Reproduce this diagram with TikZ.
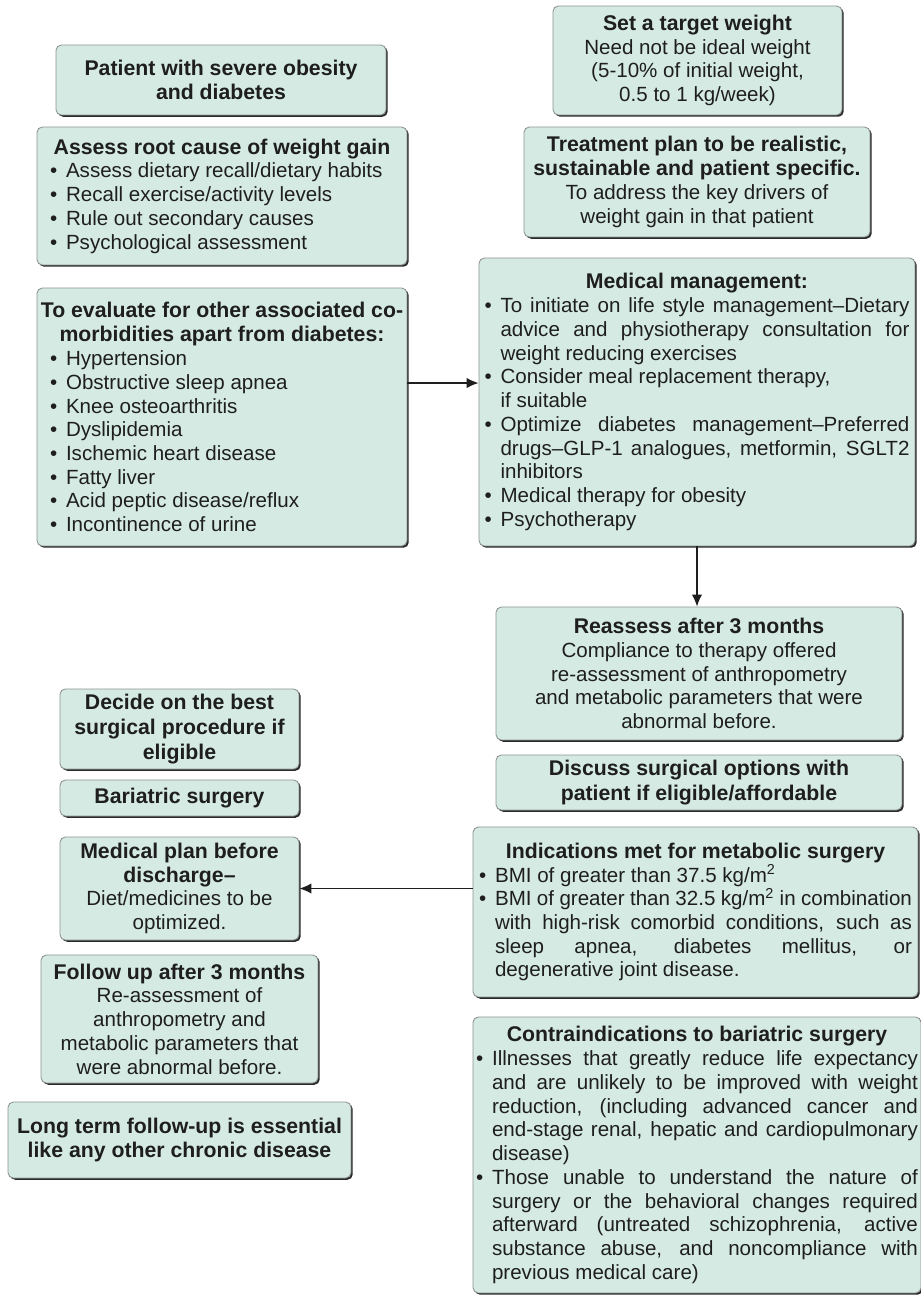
\documentclass[tikz,border=0pt]{standalone}
\usepackage{fontspec}
\setmainfont{Liberation Sans}
\usetikzlibrary{arrows.meta,shadows}

\definecolor{boxfill}{HTML}{D5EAE3}
\definecolor{edge}{HTML}{8E9491}
\definecolor{shade}{HTML}{2A2A2A}
\definecolor{ink}{HTML}{1E1E1E}

\newcommand{\fs}{\fontsize{11.7}{13.5}\selectfont}
\newcommand{\bfs}{\fontsize{12.1}{13.8}\selectfont\bfseries}
\newlength{\bulind}
\setlength{\bulind}{0.32cm}
\newcommand{\bul}{\par\noindent\hangindent=\bulind\hangafter=1\makebox[\bulind][l]{\textbullet}}
\newcommand{\ttl}[1]{{\centering\bfs #1\par}}
\hyphenpenalty=10000
\exhyphenpenalty=10000

\begin{document}
\begin{tikzpicture}[x=0.02cm, y=-0.02cm,
        box/.style={draw=edge, line width=0.5pt, fill=boxfill, rounded corners=3pt, text=ink,
            drop shadow={shadow xshift=1pt, shadow yshift=-1pt, fill=shade, opacity=1},
            align=center, inner sep=2pt, font=\fs},
        bbox/.style={box, font=\fontsize{12.1}{14}\selectfont\bfseries},
        list/.style={box, align=justify},
        arrow/.style={-{Latex[length=2.4mm,width=2.1mm]}, line width=0.9pt, draw=ink}
    ]
    \useasboundingbox (0,0) rectangle (920,1295);
    \node[bbox, minimum width=6.6cm, minimum height=1.4cm] (patient) at (221,80) {Patient with severe obesity\\and diabetes};
    \node[list, text width=6.88cm, inner xsep=0.26cm, minimum height=2.76cm] (rootcause) at (222,196) {\ttl{Assess root cause of weight gain}\bul Assess dietary recall/dietary habits\bul Recall exercise/activity levels\bul Rule out secondary causes\bul Psychological assessment\par};
    \node[list, text width=6.88cm, inner xsep=0.26cm, minimum height=5.16cm] (comorb) at (222,417) {\ttl{\makebox[\hsize]{To evaluate for other associated co-}\\morbidities apart from diabetes:}\bul Hypertension\bul Obstructive sleep apnea\bul Knee osteoarthritis\bul Dyslipidemia\bul Ischemic heart disease\bul Fatty liver\bul Acid peptic disease/reflux\bul Incontinence of urine\par};
    \node[box, minimum width=5.78cm, minimum height=2.18cm] (target) at (697.5,60.5) {{\bfs Set a target weight}\\Need not be ideal weight\\(5-10\% of initial weight,\\0.5 to 1 kg/week)};
    \node[box, minimum width=6.92cm, minimum height=2.2cm] (plan) at (697,182) {{\bfs Treatment plan to be realistic,}\\{\bfs sustainable and patient specific.}\\To address the key drivers of\\weight gain in that patient};
    \node[list, text width=8.5cm, inner xsep=0.11cm, minimum height=5.76cm] (medical) at (697,402) {\ttl{Medical management:}\bul To initiate on life style management–Dietary\linebreak advice and physiotherapy consultation for\linebreak weight reducing exercises\bul Consider meal replacement therapy,\newline if suitable\bul Optimize diabetes management–Preferred\linebreak drugs–GLP-1 analogues, metformin, SGLT2\linebreak inhibitors\bul Medical therapy for obesity\bul Psychotherapy\par};
    \node[box, minimum width=8.12cm, minimum height=2.66cm] (reassess) at (699,673.5) {{\bfs Reassess after 3 months}\\Compliance to therapy offered\\re-assessment of anthropometry\\and metabolic parameters that were\\abnormal before.};
    \node[bbox, minimum width=8.12cm, minimum height=1.1cm] (discuss) at (699,782.5) {Discuss surgical options with\\patient if eligible/affordable};
    \node[list, text width=8.66cm, inner xsep=0.12cm, minimum height=3.4cm] (indic) at (695.5,912) {\ttl{Indications met for metabolic surgery}\bul BMI of greater than 37.5 kg/m\textsuperscript{2}\bul BMI of greater than 32.5 kg/m\textsuperscript{2} in combination\linebreak with high-risk comorbid conditions, such as\linebreak sleep apnea, diabetes mellitus, or\linebreak degenerative joint disease.\par};
    \node[list, text width=8.84cm, inner xsep=0.06cm, minimum height=5.52cm] (contra) at (697,1155) {\ttl{Contraindications to bariatric surgery}\bul Illnesses that greatly reduce life expectancy\linebreak and are unlikely to be improved with weight\linebreak reduction, (including advanced cancer and\linebreak end-stage renal, hepatic and cardiopulmonary\linebreak disease)\bul Those unable to understand the nature of\linebreak surgery or the behavioral changes required\linebreak afterward (untreated schizophrenia, active\linebreak substance abuse, and noncompliance with\linebreak previous medical care)\par};
    \node[bbox, minimum width=4.78cm, minimum height=1.6cm] (decide) at (179.5,729) {Decide on the best\\surgical procedure if\\eligible};
    \node[bbox, minimum width=4.78cm, minimum height=0.72cm] (bariatric) at (179.5,798) {Bariatric surgery};
    \node[box, minimum width=4.78cm, minimum height=2.06cm] (medplan) at (179.5,888.5) {{\bfs Medical plan before}\\{\bfs discharge–}\\Diet/medicines to be\\optimized.};
    \node[box, minimum width=5.54cm, minimum height=2.56cm] (followup) at (179.5,1019) {{\bfs Follow up after 3 months}\\Re-assessment of\\anthropometry and\\metabolic parameters that\\were abnormal before.};
    \node[bbox, minimum width=6.86cm, minimum height=1.52cm] (longterm) at (179.5,1140) {Long term follow-up is essential\\like any other chronic disease};
    \coordinate (evalout) at ([yshift=0.68cm]comorb.east);
    \draw[arrow] (evalout) -- (evalout -| medical.west);
    \draw[arrow] (medical.south) -- (medical.south |- reassess.north);
    \draw[arrow] (indic.west |- medplan.east) -- (medplan.east);
\end{tikzpicture}
\end{document}
